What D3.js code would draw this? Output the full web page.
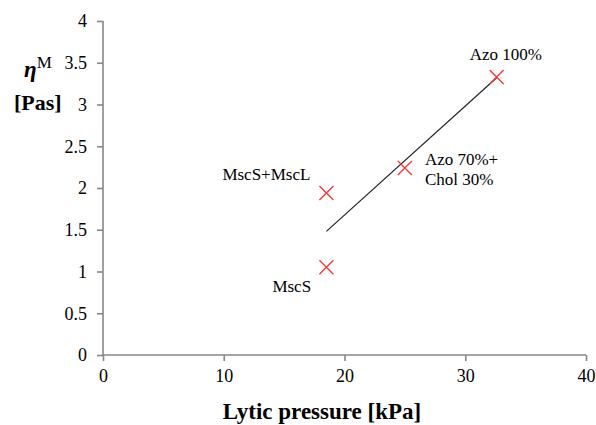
<!DOCTYPE html>
<html>
<head>
<meta charset="utf-8">
<script src="https://cdn.jsdelivr.net/npm/d3@7"></script>
<style>
  body { margin: 0; background: #fff; }
  svg { display: block; }
  svg text { font-family: "Liberation Serif", "Times New Roman", "DejaVu Serif", serif; }
</style>
</head>
<body>
<svg width="596" height="425"></svg>
<script>
// data
var names = ["Azo 100%", "Azo 70%+|Chol 30%", "MscS+MscL", "MscS"];
var lyticPressure = [32.6, 25, 18.5, 18.5];
var viscosity = [3.33, 2.24, 1.94, 1.05];
var trendX = [18.5, 32.6];
var trendY = [1.48, 3.32];
var xTicks = [0, 10, 20, 30, 40];
var yTicks = [0, 0.5, 1, 1.5, 2, 2.5, 3, 3.5, 4];

var svg = d3.select("svg"),
  margin = { top: 21, right: 10, bottom: 70, left: 103 },
  width = 586 - margin.left,
  height = 355 - margin.top,
  g = svg.append("g")
    .attr("transform", "translate(" + margin.left + "," + margin.top + ")");

var x = d3.scaleLinear().domain([0, 40]).range([0, width]);
var y = d3.scaleLinear().domain([0, 4]).range([height, 0]);

var axisColor = "#878787";

var xAxis = g.append("g")
  .attr("transform", "translate(0," + height + ")")
  .call(d3.axisBottom(x).tickValues(xTicks).tickSize(6).tickPadding(8).tickFormat(d3.format("d")));

var yAxis = g.append("g")
  .call(d3.axisLeft(y).tickValues(yTicks).tickSize(6).tickPadding(10).tickFormat(function(d) { return d; }));

[xAxis, yAxis].forEach(function(a) {
  a.attr("font-family", null).attr("font-size", null);
  a.select(".domain").attr("stroke", axisColor).attr("stroke-width", 1.6);
  a.selectAll(".tick line").attr("stroke", axisColor).attr("stroke-width", 1.6);
  a.selectAll(".tick text")
    .attr("fill", "#000")
    .style("font-size", "18px");
});
// excel style: no outer tick caps on the domain
xAxis.select(".domain").attr("d", "M0,0H" + width);
yAxis.select(".domain").attr("d", "M0," + height + "V0");

// trend line
g.append("line")
  .attr("x1", x(trendX[0]))
  .attr("y1", y(trendY[0]))
  .attr("x2", x(trendX[1]))
  .attr("y2", y(trendY[1]))
  .attr("stroke", "#222")
  .attr("stroke-width", 1.2);

// cross markers
var pts = names.map(function(n, i) {
  return { name: n, x: lyticPressure[i], y: viscosity[i] };
});
var s = 7;
g.selectAll(".mark")
  .data(pts)
  .enter()
  .append("path")
  .attr("class", "mark")
  .attr("d", function(d) {
    var cx = x(d.x), cy = y(d.y);
    return "M" + (cx - s) + "," + (cy - s) + "L" + (cx + s) + "," + (cy + s) +
      "M" + (cx - s) + "," + (cy + s) + "L" + (cx + s) + "," + (cy - s);
  })
  .attr("stroke", "#ff3333")
  .attr("stroke-width", 1.3)
  .attr("fill", "none");

// point labels (offsets from each point)
var labelOffsets = [[-27, -17], [20, -3], [-104, -13], [-54, 25]];
var labels = g.selectAll(".lbl")
  .data(pts)
  .enter()
  .append("text")
  .attr("class", "lbl")
  .attr("x", function(d, i) { return x(d.x) + labelOffsets[i][0]; })
  .attr("y", function(d, i) { return y(d.y) + labelOffsets[i][1]; })
  .style("font-size", "17px")
  .attr("fill", "#000");
labels.each(function(d) {
  var t = d3.select(this);
  d.name.split("|").forEach(function(line, k) {
    t.append("tspan")
      .attr("x", t.attr("x"))
      .attr("dy", k === 0 ? 0 : 20)
      .text(line);
  });
});

// axis titles
svg.append("text")
  .attr("x", 322)
  .attr("y", 419)
  .attr("text-anchor", "middle")
  .style("font-size", "23px")
  .style("font-weight", "bold")
  .text("Lytic pressure [kPa]");

var yt = svg.append("text")
  .attr("x", 24)
  .attr("y", 77)
  .style("font-weight", "bold")
  .style("font-size", "23px");
yt.append("tspan").style("font-style", "italic").text("\u03b7");
yt.append("tspan").attr("dy", -9).style("font-size", "17px").style("font-weight", "normal").text("M");

svg.append("text")
  .attr("x", 14)
  .attr("y", 110)
  .style("font-weight", "bold")
  .style("font-size", "22px")
  .text("[Pas]");
</script>
</body>
</html>
